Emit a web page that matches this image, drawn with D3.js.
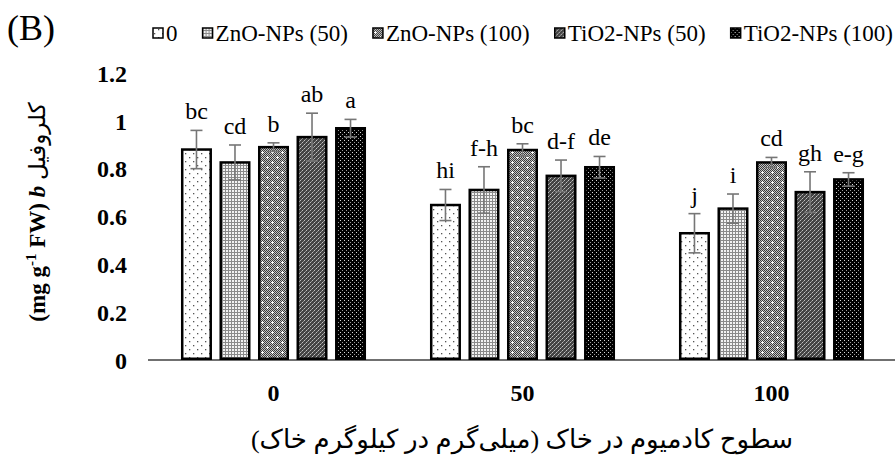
<!DOCTYPE html>
<html>
<head>
<meta charset="utf-8">
<script src="https://cdn.jsdelivr.net/npm/d3@7"></script>
<style>
  html, body { margin: 0; padding: 0; background: #fff; }
  svg { display: block; }
  text { font-family: "Liberation Serif", "Times New Roman", "DejaVu Sans", serif; fill: #000; }
</style>
</head>
<body>
<div id="chart"></div>
<script>
// ---------- data ----------
const categories = ["0", "50", "100"];
const seriesNames = ["0", "ZnO-NPs (50)", "ZnO-NPs (100)", "TiO2-NPs (50)", "TiO2-NPs (100)"];
const values0    = [0.880, 0.648, 0.530];
const valuesZn50 = [0.826, 0.711, 0.633];
const valuesZn100= [0.890, 0.878, 0.826];
const valuesTi50 = [0.932, 0.770, 0.702];
const valuesTi100= [0.969, 0.806, 0.755];
const err0    = [0.080, 0.065, 0.082];
const errZn50 = [0.073, 0.097, 0.061];
const errZn100= [0.018, 0.026, 0.021];
const errTi50 = [0.100, 0.066, 0.085];
const errTi100= [0.037, 0.045, 0.028];
const letters0    = ["bc", "hi", "j"];
const lettersZn50 = ["cd", "f-h", "i"];
const lettersZn100= ["b", "bc", "cd"];
const lettersTi50 = ["ab", "d-f", "gh"];
const lettersTi100= ["a", "de", "e-g"];
const yTicks = [0, 0.2, 0.4, 0.6, 0.8, 1, 1.2];
const yTickLabels = ["0", "0.2", "0.4", "0.6", "0.8", "1", "1.2"];
const xTitle = "سطوح کادمیوم در خاک (میلی‌گرم در کیلوگرم خاک)";
const panelLabel = "(B)";

const allValues = [values0, valuesZn50, valuesZn100, valuesTi50, valuesTi100];
const allErr = [err0, errZn50, errZn100, errTi50, errTi100];
const allLetters = [letters0, lettersZn50, lettersZn100, lettersTi50, lettersTi100];

// ---------- setup ----------
const SERIF = '"Liberation Serif", "Times New Roman", "DejaVu Sans", serif';
const W = 895, H = 459;
const svg = d3.select("#chart").append("svg").attr("width", W).attr("height", H);
const defs = svg.append("defs");

function pat(id, w, h) {
  return defs.append("pattern").attr("id", id).attr("patternUnits", "userSpaceOnUse")
    .attr("width", w).attr("height", h);
}
let p = pat("p0", 8, 8);
p.append("rect").attr("width", 8).attr("height", 8).attr("fill", "#fff");
p.append("rect").attr("x", 1).attr("y", 1).attr("width", 1.3).attr("height", 1.3).attr("fill", "#555");
p.append("rect").attr("x", 5).attr("y", 5).attr("width", 1.3).attr("height", 1.3).attr("fill", "#555");
p = pat("p1", 3, 3);
p.append("rect").attr("width", 3).attr("height", 3).attr("fill", "#8a8a8a");
p.append("rect").attr("x", 1).attr("y", 1).attr("width", 2).attr("height", 2).attr("fill", "#f2f2f2");
p = pat("chk", 2, 2);
p.append("rect").attr("width", 2).attr("height", 2).attr("fill", "#c4c4c4");
p.append("rect").attr("x", 0).attr("y", 0).attr("width", 1).attr("height", 1).attr("fill", "#3c3c3c");
p.append("rect").attr("x", 1).attr("y", 1).attr("width", 1).attr("height", 1).attr("fill", "#3c3c3c");
p = pat("p2", 10, 10);
p.append("rect").attr("width", 10).attr("height", 10).attr("fill", "url(#chk)");
[[2, 2], [7, 7]].forEach(([cx, cy]) => {
  p.append("rect").attr("x", cx - 1).attr("y", cy).attr("width", 3).attr("height", 1).attr("fill", "#fff");
  p.append("rect").attr("x", cx).attr("y", cy - 1).attr("width", 1).attr("height", 3).attr("fill", "#fff");
});
p = pat("p3", 4, 4);
p.append("rect").attr("width", 4).attr("height", 4).attr("fill", "#444");
p.append("rect").attr("x", 0).attr("y", 0).attr("width", 1).attr("height", 1).attr("fill", "#c0c0c0");
p.append("rect").attr("x", 2).attr("y", 2).attr("width", 1).attr("height", 1).attr("fill", "#c0c0c0");
p.append("rect").attr("x", 1).attr("y", 3).attr("width", 1).attr("height", 1).attr("fill", "#909090");
p.append("rect").attr("x", 3).attr("y", 1).attr("width", 1).attr("height", 1).attr("fill", "#909090");
p = pat("p4", 4, 4);
p.append("rect").attr("width", 4).attr("height", 4).attr("fill", "#000");
p.append("rect").attr("x", 0).attr("y", 0).attr("width", 1).attr("height", 1).attr("fill", "#d8d8d8");
p.append("rect").attr("x", 2).attr("y", 2).attr("width", 1).attr("height", 1).attr("fill", "#9a9a9a");

const fills = ["url(#p0)", "url(#p1)", "url(#p2)", "url(#p3)", "url(#p4)"];

// scales
const y = d3.scaleLinear().domain([0, 1.2]).range([360, 73]);
const x0 = d3.scaleBand().domain(categories).range([149, 896]);
const x1 = d3.scaleBand().domain(d3.range(seriesNames.length)).range([0, x0.bandwidth()])
  .paddingInner(0.195).paddingOuter(0.83);

// axes
const yAxis = d3.axisLeft(y).tickValues(yTicks).tickSize(0).tickPadding(21)
  .tickFormat((d, i) => yTickLabels[i]);
const gy = svg.append("g").attr("transform", "translate(148,0)").call(yAxis)
  .attr("font-family", SERIF).attr("font-size", 24).attr("font-weight", "bold");
gy.select(".domain").remove();
gy.selectAll("text").attr("dy", "0.34em");

const xAxis = d3.axisBottom(x0).tickSize(0).tickPadding(24);
const gx = svg.append("g").attr("transform", "translate(0,360)").call(xAxis)
  .attr("font-family", SERIF).attr("font-size", 24).attr("font-weight", "bold");
gx.select(".domain").attr("d", "M148,0H895").attr("stroke", "#404040").attr("stroke-width", 1.5);

// bars
const data = [];
categories.forEach((c, ci) => {
  seriesNames.forEach((s, si) => {
    data.push({ c, si, v: allValues[si][ci], e: allErr[si][ci], l: allLetters[si][ci] });
  });
});
const SW = 2.5;
svg.append("g").selectAll("rect.bar").data(data).join("rect").attr("class", "bar")
  .attr("x", d => x0(d.c) + x1(d.si) + SW / 2)
  .attr("width", x1.bandwidth() - SW)
  .attr("y", d => y(d.v))
  .attr("height", d => y(0) - y(d.v) - SW / 2)
  .attr("fill", d => fills[d.si])
  .attr("stroke", "#000").attr("stroke-width", SW);

// error bars
const eg = svg.append("g").attr("stroke", "#767676").attr("stroke-width", 1.6);
data.forEach(d => {
  const cx = x0(d.c) + x1(d.si) + x1.bandwidth() / 2;
  eg.append("line").attr("x1", cx).attr("x2", cx).attr("y1", y(d.v + d.e)).attr("y2", y(d.v - d.e));
  eg.append("line").attr("x1", cx - 6).attr("x2", cx + 6).attr("y1", y(d.v + d.e)).attr("y2", y(d.v + d.e));
  eg.append("line").attr("x1", cx - 6).attr("x2", cx + 6).attr("y1", y(d.v - d.e)).attr("y2", y(d.v - d.e));
});

// letters
svg.append("g").attr("font-family", SERIF).attr("font-size", 24)
  .selectAll("text").data(data).join("text")
  .attr("x", d => x0(d.c) + x1(d.si) + x1.bandwidth() / 2)
  .attr("y", d => y(d.v + d.e) - 11)
  .attr("text-anchor", "middle")
  .text(d => d.l);

// panel label
svg.append("text").attr("x", 7).attr("y", 40).attr("font-family", SERIF)
  .attr("font-size", 36).text(panelLabel);

// legend
const lg = svg.append("g").attr("font-family", SERIF).attr("font-size", 23);
const items = seriesNames.map((s, i) => {
  const it = lg.append("g");
  it.append("rect").attr("width", 10).attr("height", 10).attr("y", 28)
    .attr("fill", fills[i]).attr("stroke", "#000").attr("stroke-width", 1.5);
  const t = it.append("text").attr("x", 13).attr("y", 41).text(s);
  return { it, w: 13 + t.node().getComputedTextLength() };
});
const legStart = 153, legEnd = 893;
const totalW = d3.sum(items, d => d.w);
const gap = (legEnd - legStart - totalW) / (items.length - 1);
let lx = legStart;
items.forEach(d => { d.it.attr("transform", `translate(${lx},0)`); lx += d.w + gap; });

// y axis title
const yt = svg.append("text").attr("transform", "translate(45,212) rotate(-90)")
  .attr("text-anchor", "middle").attr("font-family", SERIF).attr("font-size", 23);
yt.append("tspan").attr("font-weight", "bold").text("(mg g");
yt.append("tspan").attr("font-weight", "bold").attr("font-size", 15).attr("dy", -9).text("-1");
yt.append("tspan").attr("font-weight", "bold").attr("dy", 9).text(" FW) ");
yt.append("tspan").attr("font-weight", "bold").attr("font-style", "italic").text("b");
yt.append("tspan").text(" کلروفیل");

// x axis title
svg.append("text").attr("x", 522).attr("y", 448).attr("text-anchor", "middle")
  .attr("direction", "rtl").attr("font-family", SERIF).attr("font-size", 26).text(xTitle);
</script>
</body>
</html>
